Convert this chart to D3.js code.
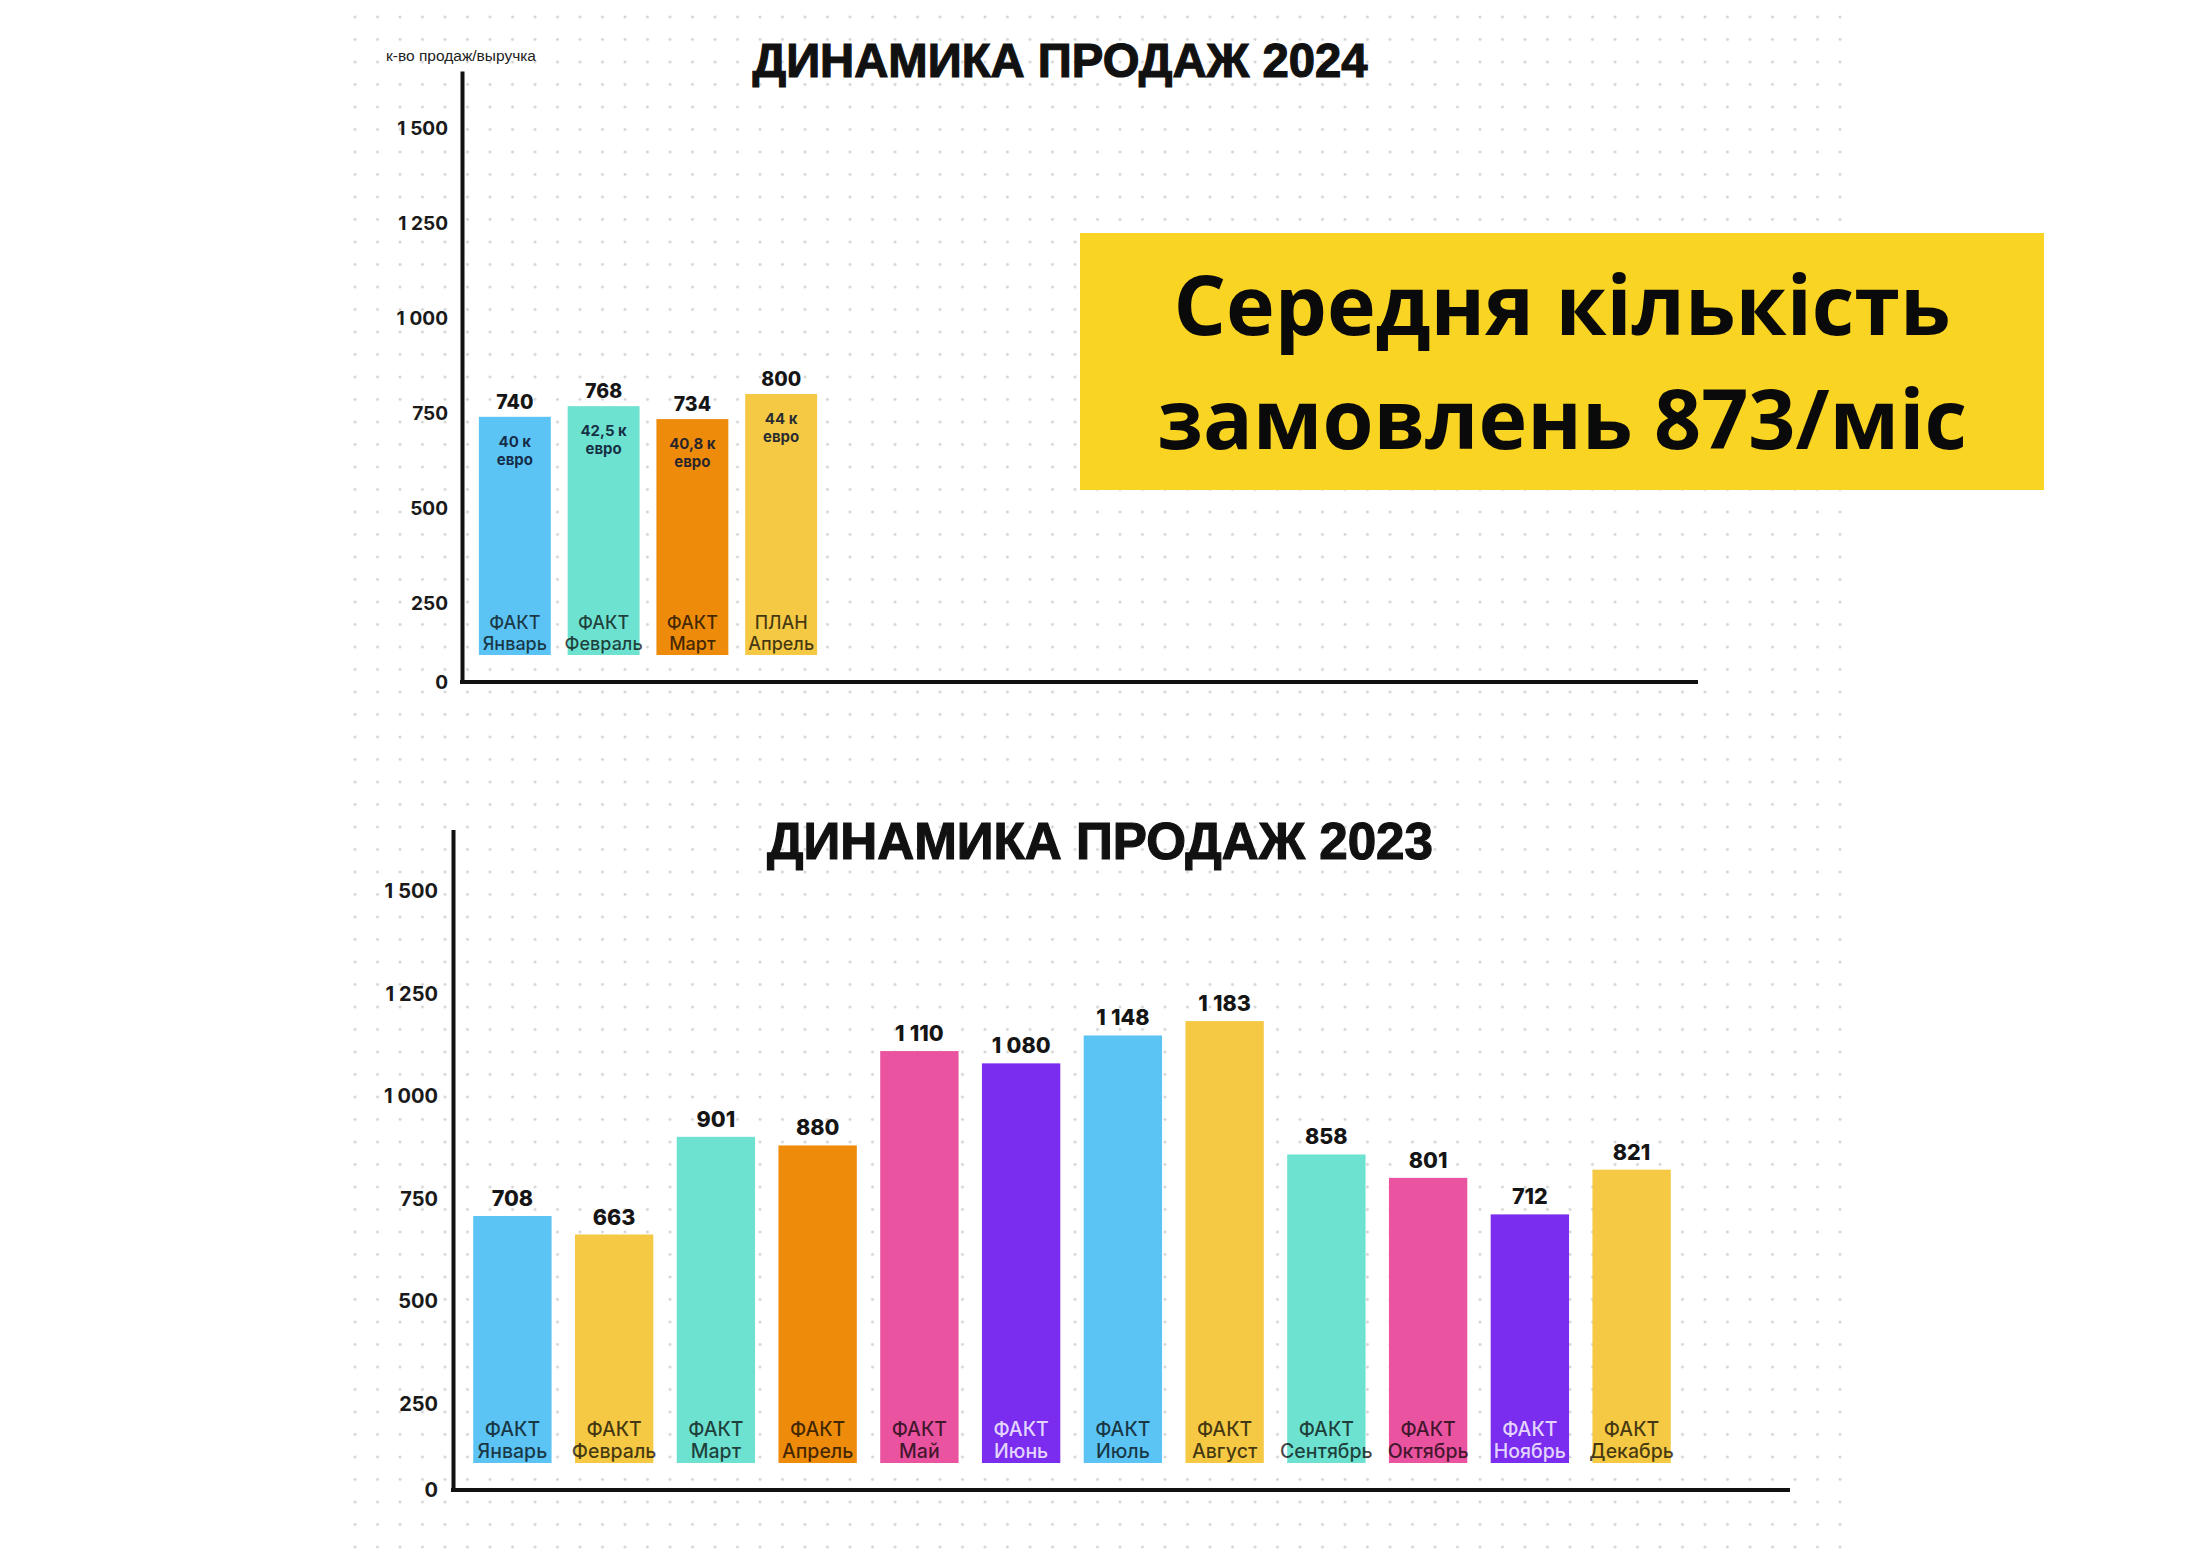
<!DOCTYPE html>
<html>
<head>
<meta charset="utf-8">
<script src="https://cdn.jsdelivr.net/npm/d3@7"></script>
<style>
  html, body { margin: 0; padding: 0; background: #ffffff; }
  svg { display: block; }
</style>
</head>
<body>
<svg id="chart" width="2200" height="1550"></svg>
<script>
// ---------------- DATA ----------------
const yAxisCaption = "к-во продаж/выручка";
const title2024 = "ДИНАМИКА ПРОДАЖ 2024";
const title2023 = "ДИНАМИКА ПРОДАЖ 2023";
const calloutLines = ["Середня кількість", "замовлень 873/міс"];

const months2024 = ["Январь", "Февраль", "Март", "Апрель"];
const status2024 = ["ФАКТ", "ФАКТ", "ФАКТ", "ПЛАН"];
const sales2024 = [740, 768, 734, 800];
const revenue2024 = ["40 к", "42,5 к", "40,8 к", "44 к"];
const revenueUnit = "евро";

const months2023 = ["Январь", "Февраль", "Март", "Апрель", "Май", "Июнь",
                    "Июль", "Август", "Сентябрь", "Октябрь", "Ноябрь", "Декабрь"];
const status2023 = ["ФАКТ", "ФАКТ", "ФАКТ", "ФАКТ", "ФАКТ", "ФАКТ",
                    "ФАКТ", "ФАКТ", "ФАКТ", "ФАКТ", "ФАКТ", "ФАКТ"];
const sales2023 = [708, 663, 901, 880, 1110, 1080, 1148, 1183, 858, 801, 712, 821];

const yTickValues = [0, 250, 500, 750, 1000, 1250, 1500];
const yTickLabels = ["0", "250", "500", "750", "1\u2005000", "1\u2005250", "1\u2005500"];

// ---------------- STYLE ----------------
const C = {
  blue: "#5BC4F4", mint: "#6EE2D0", orange: "#EE8B0A", yellow: "#F5C943",
  pink: "#EA539F", purple: "#7A2CEF", box: "#F9D423"
};
const colors2024 = [C.blue, C.mint, C.orange, C.yellow];
const colors2023 = [C.blue, C.yellow, C.mint, C.orange, C.pink, C.purple,
                    C.blue, C.yellow, C.mint, C.pink, C.purple, C.yellow];
const lightText = new Set([C.purple]);

const svg = d3.select("#chart");
const fmt = v => v >= 1000 ? Math.floor(v / 1000) + "\u2005" + String(v % 1000).padStart(3, "0") : String(v);

// ---------------- DOT GRID BACKGROUND ----------------
const defs = svg.append("defs");
const pat = defs.append("pattern").attr("id", "dots")
  .attr("patternUnits", "userSpaceOnUse").attr("width", 22.5).attr("height", 22.5)
  .attr("x", 344).attr("y", 6);
pat.append("circle").attr("cx", 11).attr("cy", 11).attr("r", 1.4).attr("fill", "#d2d2d2");
svg.append("rect").attr("x", 344).attr("y", 0).attr("width", 1500).attr("height", 1550)
  .attr("fill", "url(#dots)");

// ---------------- CHART BUILDER ----------------
function drawChart(cfg) {
  const g = svg.append("g");
  // axis with a compressed first segment (0–250), linear above
  const y = d3.scaleLinear().domain([0, 250, 1500, 1650])
    .range([cfg.y0, cfg.y250, cfg.y1500, cfg.y1500 - 150 * (cfg.y250 - cfg.y1500) / 1250]);
  const x = d3.scaleBand().domain(cfg.months).range(cfg.xRange)
    .paddingInner(cfg.padIn).paddingOuter(cfg.padOut);

  // y axis
  const yAxis = d3.axisLeft(y).tickValues(yTickValues)
    .tickFormat((d, i) => yTickLabels[i]).tickSize(0).tickPadding(cfg.tickPad);
  const ya = g.append("g").attr("transform", `translate(${cfg.x0},0)`).call(yAxis);
  ya.select(".domain").attr("stroke", "#111").attr("stroke-width", 4);
  ya.selectAll(".tick text")
    .attr("font-family", "Inter, 'Noto Sans', sans-serif").attr("font-weight", 700)
    .attr("font-size", cfg.tickFont).attr("fill", "#1a1a1a");

  // x axis line
  g.append("line").attr("x1", cfg.x0 - 2).attr("x2", cfg.xEnd)
    .attr("y1", y(0)).attr("y2", y(0)).attr("stroke", "#111").attr("stroke-width", 4);

  const data = cfg.values.map((v, i) => ({ m: cfg.months[i], v, i }));
  const base = y(0) - cfg.barGap;

  g.selectAll("rect.bar").data(data).join("rect").attr("class", "bar")
    .attr("x", d => x(d.m)).attr("width", x.bandwidth())
    .attr("y", d => y(d.v)).attr("height", d => base - y(d.v))
    .attr("fill", d => cfg.colors[d.i]);

  // value labels
  g.selectAll("text.val").data(data).join("text").attr("class", "val")
    .attr("x", d => x(d.m) + x.bandwidth() / 2).attr("y", d => y(d.v) - cfg.valGap)
    .attr("text-anchor", "middle")
    .attr("font-family", "Inter, 'Noto Sans', sans-serif").attr("font-weight", 800)
    .attr("font-size", cfg.valFont).attr("fill", "#151515")
    .text(d => fmt(d.v));

  // status + month labels
  const lab = g.selectAll("g.lab").data(data).join("g").attr("class", "lab");
  const textFill = d => lightText.has(cfg.colors[d.i]) ? "#efe6ff" : "#000";
  const textOp = d => lightText.has(cfg.colors[d.i]) ? 0.92 : 0.72;
  lab.append("text")
    .attr("x", d => x(d.m) + x.bandwidth() / 2).attr("y", base - cfg.labLine - 5)
    .attr("text-anchor", "middle").attr("font-family", "Inter, 'Noto Sans', sans-serif")
    .attr("font-weight", 500)
    .attr("font-size", cfg.labFont).attr("fill", textFill).attr("fill-opacity", textOp)
    .text(d => cfg.status[d.i]);
  lab.append("text")
    .attr("x", d => x(d.m) + x.bandwidth() / 2).attr("y", base - 5)
    .attr("text-anchor", "middle").attr("font-family", "Inter, 'Noto Sans', sans-serif")
    .attr("font-weight", 500)
    .attr("font-size", cfg.labFont).attr("fill", textFill).attr("fill-opacity", textOp)
    .text(d => d.m);

  // revenue labels
  if (cfg.revenue) {
    const rv = g.selectAll("g.rev").data(data).join("g").attr("class", "rev");
    rv.append("text")
      .attr("x", d => x(d.m) + x.bandwidth() / 2).attr("y", d => y(d.v) + 30)
      .attr("text-anchor", "middle").attr("font-family", "Inter, 'Noto Sans', sans-serif")
      .attr("font-weight", 700).attr("font-size", 15).attr("fill", "#0b1630").attr("fill-opacity", 0.88)
      .text(d => cfg.revenue[d.i]);
    rv.append("text")
      .attr("x", d => x(d.m) + x.bandwidth() / 2).attr("y", d => y(d.v) + 48)
      .attr("text-anchor", "middle").attr("font-family", "Inter, 'Noto Sans', sans-serif")
      .attr("font-weight", 700).attr("font-size", 15).attr("fill", "#0b1630").attr("fill-opacity", 0.88)
      .text(revenueUnit);
  }

  // title
  g.append("text").attr("x", cfg.titleX).attr("y", cfg.titleY)
    .attr("text-anchor", "middle")
    .attr("font-family", "'Liberation Sans', Arial, sans-serif").attr("font-weight", 700)
    .attr("font-size", cfg.titleFont).attr("fill", "#111")
    .attr("stroke", "#111").attr("stroke-width", 1.2)
    .attr("textLength", cfg.titleW).attr("lengthAdjust", "spacingAndGlyphs")
    .text(cfg.title);
}

// 2024 chart
drawChart({
  months: months2024, values: sales2024, status: status2024, colors: colors2024,
  revenue: revenue2024, title: title2024,
  x0: 462, xEnd: 1698, y0: 682, y250: 603, y1500: 128,
  xRange: [470, 826], padIn: 0.19, padOut: 0.1, barGap: 27,
  tickPad: 14, tickFont: 19, valFont: 19.5, valGap: 8, labFont: 18, labLine: 21,
  titleX: 1060, titleY: 77, titleFont: 48, titleW: 615
});

// 2023 chart
drawChart({
  months: months2023, values: sales2023, status: status2023, colors: colors2023,
  revenue: null, title: title2023,
  x0: 453, xEnd: 1790, y0: 1490, y250: 1404, y1500: 891,
  xRange: [460, 1684], padIn: 0.23, padOut: 0.13, barGap: 27,
  tickPad: 15, tickFont: 20, valFont: 21.5, valGap: 10, labFont: 19.5, labLine: 22,
  titleX: 1100, titleY: 859, titleFont: 52, titleW: 666
});

// y-axis caption
svg.append("text").attr("x", 386).attr("y", 61)
  .attr("font-family", "'Liberation Sans', Arial, sans-serif").attr("font-size", 15.5)
  .attr("fill", "#222").text(yAxisCaption);

// callout box
const box = svg.append("g");
box.append("rect").attr("x", 1080).attr("y", 233).attr("width", 964).attr("height", 257)
  .attr("fill", C.box);
box.selectAll("text").data(calloutLines).join("text")
  .attr("x", 1562).attr("y", (d, i) => 335 + i * 114)
  .attr("text-anchor", "middle")
  .attr("font-family", "'Open Sans', 'Noto Sans', sans-serif").attr("font-weight", 700)
  .attr("font-size", 82.5).attr("fill", "#0a0a0a")
  .text(d => d);
</script>
</body>
</html>
